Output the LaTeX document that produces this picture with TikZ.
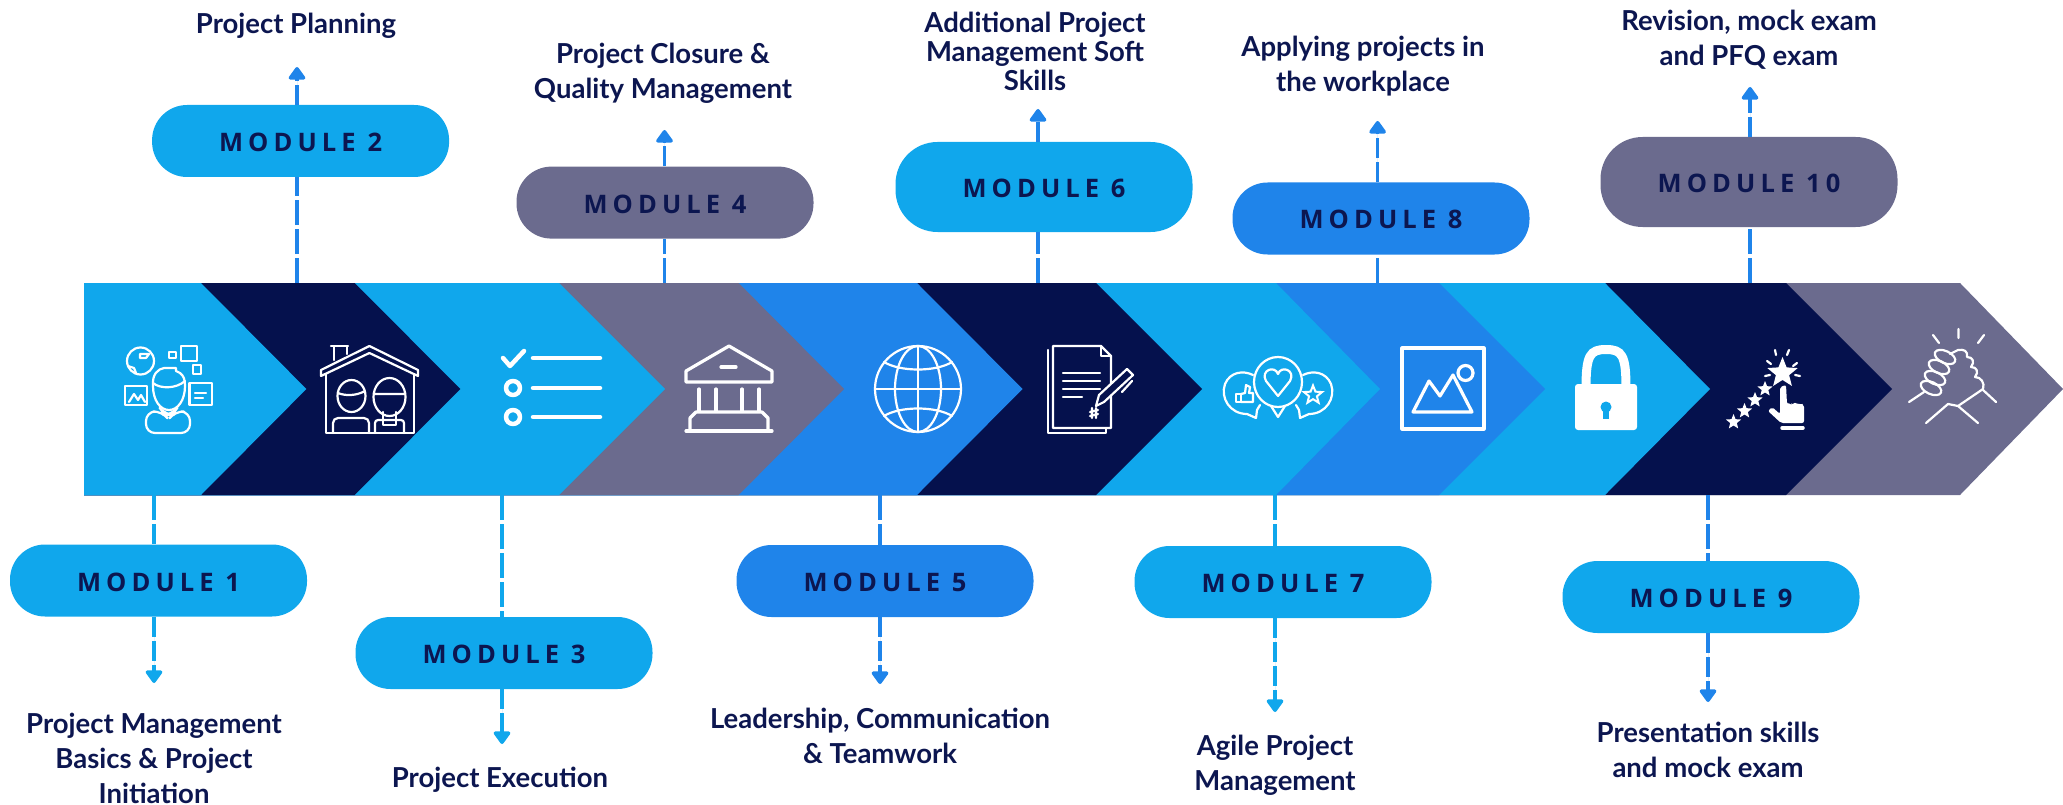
\documentclass[tikz,border=0pt]{standalone}
\usepackage{fontspec}
\usepackage{xcolor}
\usetikzlibrary{arrows.meta,shapes.geometric}
\setmainfont{Lato}
\newfontfamily\modfont[LetterSpace=20]{Open Sans}

\definecolor{lightb}{HTML}{10A7EC}
\definecolor{midb}{HTML}{1F84EA}
\definecolor{navyb}{HTML}{05114D}
\definecolor{grayb}{HTML}{6B6B8E}
\definecolor{inkb}{HTML}{0C1650}

\tikzset{
	modbox/.style={minimum width=297pt,minimum height=72pt,rounded corners=35pt,inner sep=0pt,text=inkb,text height=21pt,text depth=0pt,font=\modfont\bfseries\fontsize{25.5}{30}\selectfont},
	modline/.style={line width=3.5pt,dash pattern=on 25pt off 4pt},
	modarrow/.style={line width=3.5pt,dash pattern=on 20pt off 4pt,-{Triangle[width=19pt,length=14pt,round]}},
	lab/.style={align=center,text=inkb,inner sep=0pt,font=\bfseries\fontsize{27.5}{35}\selectfont},
	icon/.style={draw=white,line width=2.2pt,line join=round,line cap=round},
	iconfat/.style={icon,line width=4.5pt},
	iconmid/.style={icon,line width=3.2pt},
	iconstar/.style={star,star points=5,star point ratio=2.3,fill=white,inner sep=0pt}
}

\begin{document}
\begin{tikzpicture}[x=1pt,y=-1pt]
	\useasboundingbox (0,0) rectangle (2063,805);

	% dải mũi tên, vẽ từ phải sang trái
	\foreach \s/\t/\c in {1960/2063/grayb,1786/1892/navyb,1605/1710/lightb,1439/1545/midb,1276/1380/lightb,1096/1202/navyb,917/1022.6/midb,738.6/844/grayb,559/665/lightb,354.6/460.4/navyb,201/306.4/lightb} {
		\fill[\c] (84,283) -- (\s,283) -- (\t,389) -- (\s,495) -- (84,495) -- cycle;
	}

	% điểm neo trên dải
	\coordinate (bar1) at (154,495);
	\coordinate (bar2) at (297,283);
	\coordinate (bar3) at (502,495);
	\coordinate (bar4) at (664.5,283);
	\coordinate (bar5) at (880,495);
	\coordinate (bar6) at (1038,283);
	\coordinate (bar7) at (1275,495);
	\coordinate (bar8) at (1377.6,283);
	\coordinate (bar9) at (1708,495);
	\coordinate (bar10) at (1750,283);

	% đầu mũi tên
	\coordinate (tip1) at (154,683);
	\coordinate (tip2) at (297,67);
	\coordinate (tip3) at (502,744);
	\coordinate (tip4) at (664.5,130);
	\coordinate (tip5) at (880,684);
	\coordinate (tip6) at (1038,109);
	\coordinate (tip7) at (1275,712);
	\coordinate (tip8) at (1377.6,121);
	\coordinate (tip9) at (1708,702);
	\coordinate (tip10) at (1750,87);

	% các module
	\node[modbox,fill=lightb] (m1) at (158.5,580.5) {MODULE 1};
	\node[modbox,fill=lightb] (m2) at (300.6,141) {MODULE 2};
	\node[modbox,fill=lightb] (m3) at (504,653) {MODULE 3};
	\node[modbox,fill=grayb] (m4) at (665,202.6) {MODULE 4};
	\node[modbox,fill=midb] (m5) at (885,581) {MODULE 5};
	\node[modbox,fill=lightb,minimum height=90pt,rounded corners=42pt] (m6) at (1044,187) {MODULE 6};
	\node[modbox,fill=lightb] (m7) at (1283,582) {MODULE 7};
	\node[modbox,fill=midb] (m8) at (1381,218.5) {MODULE 8};
	\node[modbox,fill=lightb] (m9) at (1711,597) {MODULE 9};
	\node[modbox,fill=grayb,minimum height=90pt,rounded corners=42pt] (m10) at (1749,182) {MODULE 10};

	% đường nối
	\foreach \i/\c/\e/\f in {1/lightb/north/south,3/lightb/north/south,5/midb/north/south,7/lightb/north/south,9/midb/north/south,2/midb/south/north,4/midb/south/north,6/midb/south/north,8/midb/south/north,10/midb/south/north} {
		\draw[modline,draw=\c] (bar\i) -- (bar\i |- m\i.\e);
		\draw[modarrow,draw=\c,fill=\c] (bar\i |- m\i.\f) -- (tip\i);
	}

	% nhãn
	\node[lab] (t1) at (154,758) {Project Management\\Basics \& Project\\Initiation};
	\node[lab] (t2) at (296,26) {Project Planning};
	\node[lab] (t3) at (500,780) {Project Execution};
	\node[lab] (t4) at (663,73) {Project Closure \&\\Quality Management};
	\node[lab] (t5) at (880,736) {Leadership, Communication\\\& Teamwork};
	\node[lab,font=\bfseries\fontsize{27.5}{29}\selectfont] (t6) at (1035,51) {Additional Project\\Management Soft\\Skills};
	\node[lab] (t7) at (1275,765) {Agile Project\\Management};
	\node[lab] (t8) at (1363,66.5) {Applying projects in\\the workplace};
	\node[lab] (t9) at (1708,750) {Presentation skills\\and mock exam};
	\node[lab] (t10) at (1749,40) {Revision, mock exam\\and PFQ exam};

	% biểu tượng 1: người
	\draw[icon] (140.5,361) circle (13.5);
	\draw[icon] (140,354) -- (149,354) -- (146,358) -- (140,358) -- cycle (128,366) -- (134,368) -- (136,373);
	\draw[icon] (169,352) rectangle (176,358) (181,346) rectangle (197,361) (193,365) rectangle (201,374);
	\draw[icon] (125,386) rectangle (147,405) (189.5,383) rectangle (212,405);
	\draw[icon] (129,402) -- (134,394) -- (138,400) -- (141,395) -- (145,402);
	\draw[icon] (195,393) -- (206,393) (195,398) -- (203,398);
	\draw[icon] (153,386) .. controls (152,374) and (158,369) .. (164,368) -- (176,368) -- (176,371) -- (180,373) .. controls (184,376) and (185,380) .. (185,386) .. controls (185,400) and (178,410) .. (169,410) .. controls (160,410) and (153,400) .. (153,386) -- cycle;
	\draw[icon] (153,383) .. controls (160,389) and (176,389) .. (185,381);
	\draw[icon,rounded corners=9pt] (146,433) -- (146,412) -- (162,411) -- (165,415) -- (172,415) -- (175,411) -- (190,412) -- (190,433) -- cycle;

	% biểu tượng 2: ngôi nhà
	\draw[icon] (321,376) -- (321,370) -- (369.4,346) -- (418,370) -- (418,376) -- (369.4,353) -- cycle;
	\draw[icon] (334,360) -- (334,346) -- (347,346) -- (347,354);
	\draw[icon] (331,346) -- (348,346);
	\draw[icon] (326,374) -- (326,433) -- (414,433) -- (414,374);
	\draw[icon] (351.5,396) ellipse (14 and 16) (338,393) .. controls (345,396) and (356,396) .. (365,391);
	\draw[icon] (389.5,397) ellipse (16 and 19) (375,394) -- (404,394);
	\draw[icon,rounded corners=5pt] (333,433) -- (333,418) -- (369,418) -- (369,433);
	\draw[icon,rounded corners=3pt] (375,433) -- (375,420) -- (404,420) -- (404,433);
	\draw[icon] (383,412) -- (383,425) -- (396,425) -- (396,412);

	% biểu tượng 3: danh sách
	\draw[iconfat] (503,358) -- (510,366) -- (524,351);
	\foreach \y in {358,388,417} {
		\draw[iconfat] (533,\y) -- (600,\y);
	}
	\draw[iconfat] (513,388) circle (7) (513,417) circle (7);

	% biểu tượng 4: toà nhà
	\draw[iconmid] (686,382) -- (686,371) -- (729,346) -- (772,371) -- (772,382) -- cycle;
	\draw[iconmid] (721,367) -- (736,367);
	\foreach \x in {699,716,742,759} {
		\draw[iconmid] (\x,389) -- (\x,411);
	}
	\draw[iconmid] (690,431) -- (690,418) -- (696,412) -- (762,412) -- (768,418) -- (768,431);
	\draw[iconmid] (686,431) -- (772,431);

	% biểu tượng 5: địa cầu
	\draw[icon] (918,389) circle (43);
	\draw[icon] (918,389) ellipse (23 and 43);
	\draw[icon] (918,346) -- (918,432) (875,389) -- (961,389);
	\draw[icon] (884,362) .. controls (900,372) and (936,372) .. (952,362);
	\draw[icon] (884,416) .. controls (900,406) and (936,406) .. (952,416);

	% biểu tượng 6: văn bản và bút
	\draw[icon] (1048,350) -- (1048,433) -- (1106,433) -- (1106,428);
	\draw[icon] (1053,346) -- (1101,346) -- (1111,356) -- (1111,428) -- (1053,428) -- cycle;
	\draw[icon] (1101,346) -- (1101,356) -- (1111,356);
	\foreach \y in {373,381,389} {
		\draw[icon] (1063,\y) -- (1100,\y);
	}
	\draw[icon] (1063,397) -- (1082,397);
	\draw[icon,fill=navyb] (1096,406) -- (1099,395) -- (1127,369) -- (1133,375) -- (1104,402) -- cycle;
	\draw[icon] (1132,381) -- (1122,392);
	\draw[icon] (1090,412) -- (1098,410) (1090,416) -- (1098,414) (1092,408) -- (1092,418) (1096,408) -- (1096,418);

	% biểu tượng 7: bong bóng
	\draw[icon] (1278,382) ellipse (24 and 25);
	\draw[icon] (1271,406) -- (1278,417) -- (1285,406);
	\draw[icon] (1278,396) -- (1266,381) .. controls (1260,370) and (1275,365) .. (1278,374) .. controls (1281,365) and (1296,370) .. (1290,381) -- cycle;
	\draw[icon] (1253,375) .. controls (1243,370) and (1230,372) .. (1225,384) .. controls (1220,398) and (1230,414) .. (1247,414) -- (1256,418) -- (1257,410) -- (1260,405);
	\draw[icon] (1303,375) .. controls (1313,370) and (1326,372) .. (1331,384) .. controls (1336,398) and (1326,414) .. (1309,414) -- (1300,418) -- (1299,410) -- (1296,405);
	\draw[icon] (1236,394) rectangle (1241,402);
	\draw[icon] (1241,394) -- (1245,393) -- (1246,385) -- (1250,387) -- (1249,393) -- (1253,393) -- (1253,402) -- (1241,402);
	\node[iconstar,fill=none,draw=white,line width=2pt,minimum size=19pt] (starB) at (1313,395) {};

	% biểu tượng 8: bức tranh
	\draw[iconmid] (1402,348) rectangle (1484,429);
	\draw[iconmid] (1413,412) -- (1429,381) -- (1440,396) -- (1453,375) -- (1472,412) -- cycle;
	\draw[iconmid] (1465.5,373) circle (7.5);

	% biểu tượng 9: ổ khoá
	\draw[line width=9pt,draw=white] (1586,388) .. controls (1586,355) and (1590,349.5) .. (1606,349.5) .. controls (1622,349.5) and (1626,355) .. (1626,388);
	\fill[white,rounded corners=3pt] (1575,384) rectangle (1637,430);
	\fill[lightb] (1606,407) circle (5.5);
	\fill[lightb] (1603,408) rectangle (1609,419);

	% biểu tượng 10: ngôi sao và bàn tay
	\node[iconstar,minimum size=32pt] (starC) at (1782.5,373) {};
	\node[iconstar,minimum size=16pt] (starD) at (1765,389) {};
	\node[iconstar,minimum size=16pt] (starE) at (1755,400) {};
	\node[iconstar,minimum size=16pt] (starF) at (1744.5,411) {};
	\node[iconstar,minimum size=16pt] (starG) at (1733.5,422) {};
	\draw[icon] (1776,355) -- (1775,350) (1787,355) -- (1789,350) (1771,364) -- (1767,361) (1793,366) -- (1797,363) (1770,375) -- (1765,376) (1795,375) -- (1800,376);
	\fill[white,rounded corners=2pt] (1768,411) -- (1772,407) -- (1780,414) -- (1780,387) -- (1786,385) -- (1787,404) -- (1791,403) -- (1792,405) -- (1795,402) -- (1798,405) -- (1801,403) -- (1804,405) -- (1804,423) -- (1781,423) -- cycle;
	\draw[iconfat,line width=3.5pt] (1782,428) -- (1803,428);

	% biểu tượng 11: bắt tay
	\draw[icon] (1933,335) -- (1939,343) (1958.5,329) -- (1958.5,338) (1984,335) -- (1978,343);
	\foreach \x/\y in {1931/388,1935/378,1939/367,1945/357} {
		\draw[icon,rotate around={-25:(\x,\y)}] (\x,\y) ellipse (11 and 6);
	}
	\draw[icon] (1950,354) -- (1958,350) .. controls (1964,349) and (1968,351) .. (1967,357) .. controls (1973,357) and (1975,362) .. (1971,367) .. controls (1977,367) and (1979,372) .. (1975,377) .. controls (1981,377) and (1985,383) .. (1983,389) -- (1958,406) -- (1948,404) -- (1926,423);
	\draw[icon] (1958,406) -- (1978,423) (1983,390) -- (1996,402) (1924,392) -- (1909,402);
\end{tikzpicture}
\end{document}
